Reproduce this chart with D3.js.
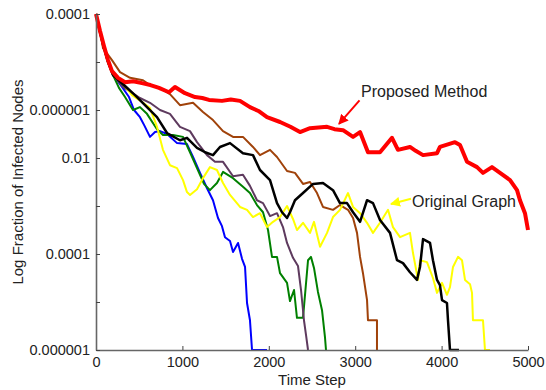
<!DOCTYPE html>
<html>
<head>
<meta charset="utf-8">
<script src="https://cdn.jsdelivr.net/npm/d3@7"></script>
<style>
  body { margin: 0; background: #fff; }
  text { font-family: "Liberation Sans", Arial, Helvetica, sans-serif; fill: #222; }
</style>
</head>
<body>
<div id="chart"></div>
<script>
// time steps on x, log10 of the infected fraction on y
var xTicks = [0, 1000, 2000, 3000, 4000, 5000];
var yTickValues = [1, 1e-1, 1e-2, 1e-3, 1e-4, 1e-5, 1e-6, 1e-7];
var yTickLabels = ["0.0001", "", "0.000001", "0.01", "", "0.0001", "", "0.000001"];

var proposed = [[0,0],[46,-0.35],[93,-0.67],[139,-0.96],[185,-1.19],[255,-1.33],[336,-1.42],[430,-1.40],[532,-1.44],[630,-1.48],[729,-1.54],[845,-1.63],[914,-1.52],[1030,-1.65],[1146,-1.73],[1230,-1.75],[1308,-1.79],[1458,-1.81],[1560,-1.78],[1667,-1.81],[1782,-1.94],[1880,-2.02],[1979,-2.15],[2130,-2.25],[2250,-2.35],[2361,-2.46],[2477,-2.38],[2674,-2.35],[2760,-2.40],[2859,-2.42],[2975,-2.56],[3056,-2.46],[3148,-2.88],[3287,-2.88],[3426,-2.58],[3495,-2.83],[3634,-2.77],[3700,-2.85],[3785,-2.94],[3947,-2.90],[3981,-2.77],[4155,-2.67],[4213,-2.73],[4294,-3.08],[4410,-3.19],[4479,-3.31],[4583,-3.19],[4676,-3.31],[4792,-3.46],[4873,-3.67],[4907,-3.88],[4965,-4.15],[5000,-4.50]];

var brown = [[0,0],[46,-0.33],[81,-0.71],[185,-0.96],[278,-1.21],[394,-1.33],[544,-1.38],[625,-1.48],[741,-1.54],[856,-1.67],[972,-1.90],[1123,-1.85],[1238,-2.04],[1354,-2.21],[1470,-2.44],[1586,-2.56],[1701,-2.56],[1817,-2.77],[1898,-2.94],[2014,-2.83],[2095,-2.98],[2211,-3.27],[2303,-3.31],[2396,-3.54],[2477,-3.50],[2558,-3.73],[2627,-4.02],[2743,-4.08],[2824,-3.98],[2917,-4.08],[2975,-4.25],[3021,-4.56],[3056,-5.06],[3090,-5.40],[3137,-5.96],[3148,-6.38],[3252,-6.38],[3252,-7]];

var black = [[0,0],[46,-0.38],[93,-0.71],[139,-1.00],[197,-1.27],[336,-1.50],[451,-1.69],[590,-1.94],[706,-2.15],[822,-2.48],[972,-2.63],[1053,-2.58],[1169,-2.79],[1262,-2.88],[1354,-2.94],[1435,-2.77],[1551,-2.69],[1701,-2.90],[1817,-2.94],[1898,-3.25],[2014,-3.46],[2095,-3.94],[2153,-4.13],[2211,-4.25],[2245,-4.13],[2303,-3.88],[2396,-3.73],[2512,-3.54],[2627,-3.52],[2743,-3.67],[2824,-3.94],[2905,-3.94],[2975,-4.13],[3056,-4.33],[3137,-3.88],[3206,-3.94],[3287,-4.29],[3403,-4.56],[3484,-5.13],[3553,-5.19],[3634,-5.38],[3715,-5.54],[3750,-5.27],[3785,-4.69],[3866,-4.77],[3900,-5.13],[3947,-5.54],[3981,-5.65],[4005,-5.96],[4062,-6.02],[4074,-6.38],[4097,-7],[4201,-7]];

var yellow = [[0,0],[46,-0.38],[93,-0.71],[139,-1.00],[197,-1.27],[301,-1.42],[417,-1.69],[532,-1.83],[625,-1.96],[706,-2.35],[775,-2.83],[856,-3.15],[938,-3.21],[1007,-3.46],[1053,-3.71],[1088,-3.77],[1169,-3.65],[1238,-3.42],[1319,-3.19],[1400,-3.25],[1470,-3.52],[1551,-3.77],[1667,-4.02],[1748,-4.08],[1817,-4.23],[1898,-4.15],[1979,-4.44],[2049,-4.33],[2130,-4.23],[2211,-4.00],[2280,-4.27],[2326,-4.50],[2396,-4.35],[2477,-4.56],[2523,-4.33],[2593,-4.85],[2674,-4.56],[2743,-4.23],[2824,-4.08],[2917,-3.73],[2975,-4.02],[3056,-4.15],[3137,-4.35],[3206,-4.56],[3287,-4.35],[3380,-4.08],[3437,-4.44],[3519,-4.65],[3634,-4.56],[3669,-4.98],[3727,-5.54],[3750,-5.13],[3831,-5.17],[3900,-5.50],[3947,-5.81],[4005,-5.60],[4062,-5.85],[4097,-5.69],[4132,-5.27],[4190,-5.06],[4236,-5.13],[4271,-5.54],[4329,-5.63],[4352,-5.81],[4363,-6.38],[4479,-6.38],[4502,-7],[4560,-7]];

var purple = [[0,0],[46,-0.38],[93,-0.71],[139,-1.00],[197,-1.27],[312,-1.52],[509,-1.75],[625,-1.85],[741,-2.00],[856,-2.08],[972,-2.35],[1088,-2.44],[1169,-2.67],[1285,-2.94],[1377,-3.08],[1470,-3.08],[1586,-3.38],[1701,-3.35],[1782,-3.58],[1863,-3.88],[1933,-3.94],[2014,-4.21],[2095,-4.15],[2164,-4.44],[2211,-4.77],[2280,-5.08],[2338,-5.25],[2373,-5.75],[2407,-6.38],[2431,-6.69],[2454,-7]];

var green = [[0,0],[46,-0.38],[93,-0.71],[139,-1.00],[197,-1.27],[266,-1.54],[336,-1.73],[428,-2.00],[509,-1.94],[590,-2.08],[706,-2.40],[775,-2.52],[891,-2.52],[1007,-2.56],[1088,-2.88],[1169,-3.21],[1250,-3.54],[1319,-3.67],[1400,-3.52],[1470,-3.29],[1586,-3.42],[1701,-3.60],[1782,-3.73],[1863,-3.98],[1933,-4.13],[1991,-4.50],[2037,-5.06],[2095,-5.06],[2130,-5.40],[2211,-5.60],[2245,-5.98],[2292,-5.75],[2326,-6.33],[2396,-6.33],[2454,-5.13],[2488,-5.06],[2523,-5.29],[2569,-5.79],[2616,-6.17],[2650,-6.73],[2662,-7]];

var blue = [[0,0],[46,-0.38],[93,-0.71],[139,-1.00],[197,-1.27],[301,-1.52],[382,-1.73],[440,-2.00],[509,-2.15],[556,-2.31],[625,-2.56],[683,-2.46],[741,-2.44],[822,-2.50],[938,-2.69],[1053,-2.71],[1123,-2.98],[1204,-3.31],[1285,-3.63],[1354,-3.88],[1412,-4.25],[1458,-4.42],[1493,-4.65],[1551,-4.73],[1586,-4.96],[1644,-4.77],[1690,-5.10],[1725,-5.27],[1748,-6.02],[1782,-6.38],[1806,-7],[1979,-7]];

// drawing order, bottom first
var series = [
  { name: "blue", values: blue, color: "#0000ff", width: 2 },
  { name: "green", values: green, color: "#008000", width: 2 },
  { name: "purple", values: purple, color: "#5e3a5e", width: 2 },
  { name: "brown", values: brown, color: "#a0420a", width: 2 },
  { name: "yellow", values: yellow, color: "#ffff00", width: 2 },
  { name: "black", values: black, color: "#000000", width: 2.5 },
  { name: "proposed", values: proposed, color: "#ff0000", width: 4 }
];

var margin = { top: 14, right: 18, bottom: 40, left: 96 },
  width = 546 - margin.left - margin.right,
  height = 390 - margin.top - margin.bottom;

var svg = d3.select("#chart")
  .append("svg")
  .attr("width", 546)
  .attr("height", 390)
  .append("g")
  .attr("transform", "translate(" + margin.left + "," + margin.top + ")");

var x = d3.scaleLinear()
  .domain([0, 5000])
  .range([0, width]);

var y = d3.scaleLog()
  .domain([1e-7, 1])
  .range([height, 0]);

var line = d3.line()
  .x(d => x(d[0]))
  .y(d => y(Math.pow(10, d[1])));

svg.append("g")
  .selectAll("path")
  .data(series)
  .enter()
  .append("path")
  .attr("d", d => line(d.values))
  .attr("fill", "none")
  .attr("stroke", d => d.color)
  .attr("stroke-width", d => d.width)
  .attr("stroke-linejoin", "round");

// axes (ticks point inwards)
var xAxis = svg.append("g")
  .attr("transform", "translate(0," + height + ")")
  .call(d3.axisBottom(x).tickValues(xTicks).tickFormat(d3.format("d")).tickSize(-4).tickPadding(7).tickSizeOuter(0));

var yAxis = svg.append("g")
  .call(d3.axisLeft(y).tickValues(yTickValues).tickFormat((d, i) => yTickLabels[i]).tickSize(-4).tickPadding(6).tickSizeOuter(0));

[xAxis, yAxis].forEach(g => {
  g.select(".domain").attr("stroke", "#666").attr("stroke-width", 1.6);
  g.selectAll(".tick line").attr("stroke", "#444");
  g.selectAll("text").style("font-size", "14.5px").attr("fill", "#222");
});

svg.append("text")
  .attr("x", width / 2)
  .attr("y", height + 35)
  .style("text-anchor", "middle")
  .style("font-size", "15px")
  .text("Time Step");

svg.append("text")
  .attr("transform", "translate(" + (23 - margin.left) + "," + (height / 2) + ") rotate(-90)")
  .style("text-anchor", "middle")
  .style("font-size", "15px")
  .text("Log Fraction of Infected Nodes");

// annotations with arrows
var notes = [
  { label: "Proposed Method", color: "#ff0000", text: [3067, -1.73], tail: [3050, -1.80], tip: [2812, -2.29] },
  { label: "Original Graph", color: "#ffff00", text: [3657, -4.02], tail: [3646, -3.85], tip: [3414, -3.96] }
];

var defs = svg.append("defs");
notes.forEach((n, i) => {
  defs.append("marker")
    .attr("id", "arrow" + i)
    .attr("viewBox", "0 0 10 10")
    .attr("refX", 9)
    .attr("refY", 5)
    .attr("markerWidth", 5)
    .attr("markerHeight", 5)
    .attr("markerUnits", "strokeWidth")
    .attr("orient", "auto")
    .append("path")
    .attr("d", "M0,0L10,5L0,10z")
    .attr("fill", n.color);

  svg.append("line")
    .attr("x1", x(n.tail[0]))
    .attr("y1", y(Math.pow(10, n.tail[1])))
    .attr("x2", x(n.tip[0]))
    .attr("y2", y(Math.pow(10, n.tip[1])))
    .attr("stroke", n.color)
    .attr("stroke-width", 2)
    .attr("marker-end", "url(#arrow" + i + ")");

  svg.append("text")
    .attr("x", x(n.text[0]))
    .attr("y", y(Math.pow(10, n.text[1])))
    .style("font-size", "16px")
    .text(n.label);
});
</script>
</body>
</html>
